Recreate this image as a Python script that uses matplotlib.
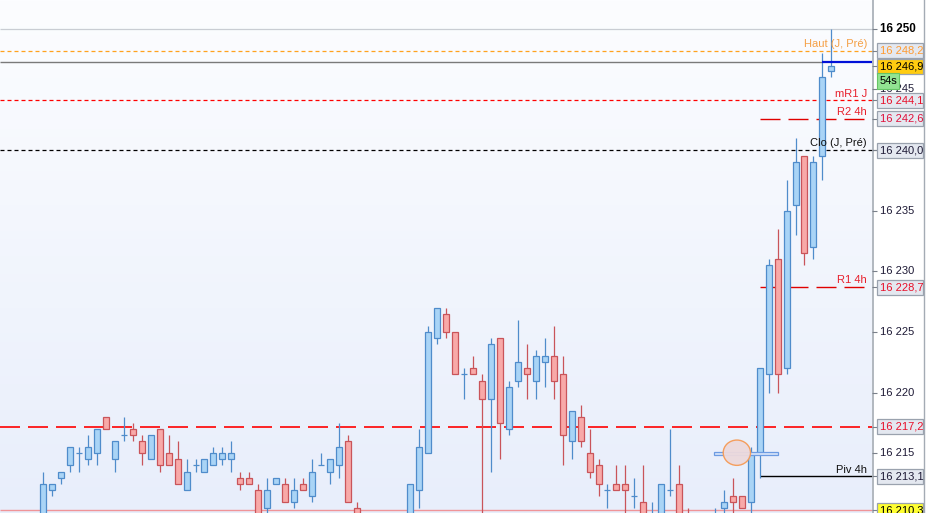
import numpy as np
import matplotlib
matplotlib.use("Agg")
import matplotlib.pyplot as plt
from matplotlib.colors import LinearSegmentedColormap
from matplotlib.patches import Rectangle, Ellipse
import matplotlib.transforms as mtransforms

plt.rcParams['font.family'] = ['Liberation Sans', 'DejaVu Sans']
plt.rcParams['lines.scale_dashes'] = False

# ---------------------------------------------------------------
# Candles (open, high, low, close), one per bar
# ---------------------------------------------------------------
opens = [16209.0, 16212.0, 16213.0, 16214.0, 16215.0, 16214.5, 16215.0, 16218.0, 16214.5, 16216.5,
         16217.0, 16216.0, 16214.5, 16217.0, 16215.0, 16214.5, 16212.0, 16214.0, 16213.5, 16214.0,
         16214.5, 16214.5, 16213.0, 16213.0, 16212.0, 16210.5, 16212.5, 16212.5, 16211.0, 16212.5,
         16211.5, 16214.0, 16213.5, 16214.0, 16216.0, 16210.5, 16209.0, 16207.5, 16208.5, 16207.0,
         16208.0, 16209.0, 16212.0, 16215.0, 16224.5, 16226.5, 16225.0, 16221.5, 16222.0, 16221.0,
         16219.5, 16224.5, 16217.0, 16221.0, 16222.0, 16221.0, 16222.5, 16223.0, 16221.5, 16216.0,
         16218.0, 16215.0, 16214.0, 16212.0, 16212.5, 16212.5, 16211.5, 16211.0, 16208.5, 16209.0,
         16212.0, 16212.5, 16209.5, 16208.5, 16208.0, 16208.5, 16210.5, 16211.5, 16211.5, 16211.0,
         16215.0, 16221.5, 16231.0, 16222.0, 16235.5, 16239.5, 16232.0, 16239.5, 16246.5]
highs = [16213.5, 16212.5, 16213.5, 16215.5, 16215.5, 16216.5, 16217.0, 16218.0, 16216.0, 16218.0,
         16217.5, 16216.5, 16216.5, 16217.0, 16216.5, 16216.0, 16214.5, 16214.5, 16214.5, 16215.5,
         16215.5, 16216.0, 16213.5, 16213.5, 16212.5, 16213.0, 16213.0, 16213.0, 16213.0, 16213.0,
         16214.5, 16215.0, 16214.5, 16217.5, 16216.5, 16211.0, 16209.5, 16209.0, 16209.0, 16208.5,
         16209.5, 16212.5, 16217.0, 16225.5, 16227.0, 16227.0, 16225.0, 16222.0, 16223.0, 16221.5,
         16224.5, 16224.5, 16221.0, 16226.0, 16224.0, 16223.5, 16224.5, 16225.5, 16223.0, 16218.5,
         16219.0, 16217.0, 16214.5, 16212.5, 16214.0, 16214.0, 16213.0, 16214.0, 16211.0, 16212.5,
         16217.0, 16214.0, 16210.5, 16209.0, 16209.5, 16210.5, 16212.0, 16213.0, 16211.5, 16215.5,
         16222.0, 16231.0, 16233.5, 16237.5, 16241.0, 16239.5, 16239.5, 16248.0, 16250.0]
lows = [16208.5, 16211.5, 16212.5, 16213.5, 16213.5, 16214.0, 16214.0, 16217.0, 16213.5, 16216.0,
        16216.0, 16214.0, 16214.5, 16213.5, 16214.0, 16212.5, 16212.0, 16213.5, 16213.5, 16214.0,
        16214.0, 16213.5, 16212.0, 16212.5, 16209.0, 16209.5, 16212.5, 16211.0, 16210.5, 16212.0,
        16211.0, 16214.0, 16212.5, 16213.0, 16211.0, 16208.5, 16207.0, 16207.0, 16206.5, 16206.5,
        16207.5, 16208.5, 16210.5, 16215.0, 16224.0, 16224.5, 16221.5, 16219.5, 16221.5, 16209.0,
        16213.5, 16214.5, 16216.5, 16220.5, 16219.5, 16219.5, 16220.5, 16219.5, 16214.0, 16214.5,
        16215.5, 16213.0, 16211.5, 16210.5, 16212.0, 16209.5, 16210.5, 16208.5, 16208.0, 16208.5,
        16211.5, 16209.0, 16208.0, 16207.5, 16207.5, 16208.0, 16209.5, 16209.5, 16210.5, 16210.0,
        16213.0, 16220.0, 16220.0, 16221.5, 16233.0, 16230.5, 16231.0, 16237.5, 16246.0]
closes = [16212.5, 16212.5, 16213.5, 16215.5, 16215.0, 16215.5, 16217.0, 16217.0, 16216.0, 16216.5,
          16216.5, 16215.0, 16216.5, 16214.0, 16214.0, 16212.5, 16213.5, 16214.0, 16214.5, 16215.0,
          16215.0, 16215.0, 16212.5, 16212.5, 16209.5, 16212.0, 16213.0, 16211.0, 16212.0, 16212.0,
          16213.5, 16214.0, 16214.5, 16215.5, 16211.0, 16209.0, 16207.5, 16208.5, 16207.0, 16208.0,
          16209.0, 16212.5, 16215.5, 16225.0, 16227.0, 16225.0, 16221.5, 16221.5, 16221.5, 16219.5,
          16224.0, 16217.5, 16220.5, 16222.5, 16221.5, 16223.0, 16223.0, 16221.0, 16216.5, 16218.5,
          16216.0, 16213.5, 16212.5, 16212.0, 16212.0, 16212.0, 16211.5, 16209.0, 16209.5, 16212.5,
          16212.0, 16209.5, 16208.5, 16208.0, 16209.0, 16209.5, 16211.0, 16211.0, 16210.5, 16215.0,
          16222.0, 16230.5, 16221.5, 16235.0, 16239.0, 16231.5, 16239.0, 16246.0, 16246.9]

# Horizontal levels drawn across the chart
level_names = ["Haut (J, Pré)", "mR1 J", "R2 4h", "Clo (J, Pré)", "R1 4h", "", "Piv 4h", ""]
level_prices = [16248.2, 16244.1, 16242.6, 16240.0, 16228.7, 16217.2, 16213.1, 16210.3]
level_start = [None, None, 80, None, 80, None, 80, None]  # 4h levels begin at bar 80

last_price = 16246.9
price_line = 16247.3
round_level = 16250.0
countdown = "54s"

y_ticks = [16215, 16220, 16225, 16230, 16235, 16240, 16245, 16250]

zone_price = 16215.0
zone_bars = (74.9, 82.0)
marker_center = (77.45, 16215.05)

# ---------------------------------------------------------------
W, H = 926, 513
AXW = 872
y_top, y_bot = 16252.37, 16210.08
px_per_unit = H / (y_top - y_bot)
bar_step = 8.955
x0_px = 43.3
x_left = -x0_px / bar_step
x_right = (AXW - x0_px) / bar_step

fig = plt.figure(figsize=(W / 100, H / 100), dpi=100)
ax = fig.add_axes([0, 0, AXW / W, 1])
panel = fig.add_axes([AXW / W, 0, (W - AXW) / W, 1])

ax.set_xlim(x_left, x_right)
ax.set_ylim(y_bot, y_top)
ax.axis('off')

# background gradient
bg = LinearSegmentedColormap.from_list('bg', ['#FCFDFF', '#E8EEFB'])
ax.imshow(np.linspace(0, 1, 256).reshape(-1, 1), cmap=bg, aspect='auto',
          extent=[x_left, x_right, y_bot, y_top], origin='upper', zorder=0)

# ---------------------------------------------------------------
# levels
# ---------------------------------------------------------------
RED = '#FF0000'
ORANGE = '#FFA21E'
fine = (0, (4 * 0.72, 3 * 0.72))
longd = (0, (20 * 0.72, 8 * 0.72))
styles = [
    dict(color=ORANGE, lw=0.9, ls=fine),
    dict(color=RED, lw=0.9, ls=fine),
    dict(color='#E00000', lw=1.0, ls=longd),
    dict(color='#000000', lw=0.9, ls=fine),
    dict(color='#E00000', lw=1.0, ls=longd),
    dict(color=RED, lw=1.2, ls=longd),
    dict(color='#000000', lw=1.0, ls='-'),
    dict(color='#F09498', lw=1.0, ls='-'),
]
for price, start, st in zip(level_prices, level_start, styles):
    xs = x_left if start is None else start
    ax.hlines(price, xs, x_right, zorder=2, **st)

ax.hlines(round_level, x_left, x_right, color='#C9CDD3', lw=0.9, zorder=1)
ax.hlines(price_line, x_left, len(closes) - 2, color='#7A7A7A', lw=1.0, zorder=1)
ax.hlines(price_line, len(closes) - 2, x_right, color='#0010D8', lw=1.6, zorder=4)

label_colors = ['#F5A045', '#E8202C', '#E8202C', '#101010', '#E8202C', None, '#101010', None]
blend = mtransforms.blended_transform_factory(ax.transAxes, ax.transData)
for name, price, col in zip(level_names, level_prices, label_colors):
    if name:
        ax.annotate(name, xy=(867 / AXW, price), xycoords=blend, xytext=(0, 1.2),
                    textcoords='offset points', ha='right', va='bottom',
                    fontsize=8, color=col, zorder=6)

# marker zone and ellipse
ax.add_patch(Rectangle((zone_bars[0], zone_price - 0.12), zone_bars[1] - zone_bars[0], 0.24,
                       facecolor='#D6E4FA', edgecolor='#6D9BE2', lw=0.9, zorder=5))
ax.add_patch(Ellipse(marker_center, 27.3 / bar_step, 25.3 / px_per_unit,
                     facecolor='#ECD9DC', edgecolor='#F59A55', lw=1.0, alpha=0.95, zorder=6))

# ---------------------------------------------------------------
# candles
# ---------------------------------------------------------------
UP_EDGE, UP_FILL = '#4F8CCB', '#A9D4F6'
DN_EDGE, DN_FILL = '#C9545A', '#F8A9A8'
idx = np.arange(len(closes))
o = np.array(opens)
h = np.array(highs)
l = np.array(lows)
c = np.array(closes)
up = c >= o
edge = np.where(up, UP_EDGE, DN_EDGE)
fill = np.where(up, UP_FILL, DN_FILL)
body_w = 6 / bar_step

ax.vlines(idx, l, h, colors=edge, lw=0.9, zorder=3)
doji = np.isclose(o, c)
ax.bar(idx[~doji], (np.abs(c - o))[~doji], bottom=np.minimum(o, c)[~doji], width=body_w,
       color=fill[~doji], edgecolor=edge[~doji], linewidth=0.9, zorder=4)
ax.hlines(o[doji], idx[doji] - body_w / 2, idx[doji] + body_w / 2, colors=UP_EDGE, lw=0.9, zorder=4)

# ---------------------------------------------------------------
# price panel
# ---------------------------------------------------------------
PW = W - AXW
panel.set_xlim(0, PW)
panel.set_ylim(y_bot, y_top)
panel.axis('off')
panel.axvline(0.5, color='#A4ABB4', lw=1.2)
panel.axvline(51.5, color='#A4ABB4', lw=1.0)

box_h = 15 / px_per_unit
box_faces = ['#E4E8F0', '#FFCC10', '#E4E8F0', '#E4E8F0', '#E4E8F0', '#E4E8F0', '#E4E8F0', '#E4E8F0', '#FFFF30']
box_text_col = ['#FF9A30', '#000000', '#E8102A', '#E0103A', '#1E1A36', '#E8102A', '#E8102A', '#1E1A36', '#000000']
box_prices = [level_prices[0], last_price, level_prices[1], level_prices[2], level_prices[3],
              level_prices[4], level_prices[5], level_prices[6], level_prices[7]]

tick_col = '#1E1A36'
cd_top = last_price - 0.55
cd_h = 16 / px_per_unit
for t in y_ticks:
    panel.hlines(t, 0, 5, color='#7A808A', lw=0.8)
    # tick labels that sit under a price box are hidden, as on the reference
    if any(abs(t - p) < box_h * 0.6 for p in box_prices):
        continue
    bold = t == round_level
    lab = panel.text(8, t, f"{t // 1000} {t % 1000:03d}", fontsize=8.4 if bold else 8,
                     fontweight='bold' if bold else 'normal',
                     color='#000000' if bold else tick_col, va='center', ha='left', zorder=2)
    if cd_top - cd_h < t < cd_top:
        # partly covered by the countdown badge
        lab.set_clip_path(Rectangle((27.5, y_bot), PW, y_top - y_bot, transform=panel.transData))

for price, face, tcol in zip(box_prices, box_faces, box_text_col):
    panel.hlines(price, 0, 5, color='#7A808A', lw=0.8, zorder=3)
    panel.add_patch(Rectangle((5, price - box_h / 2), 45.5, box_h, facecolor=face,
                              edgecolor='#9AA2AE', lw=0.9, zorder=4))
    txt = f"{int(price) // 1000} {int(price) % 1000:03d},{int(round(price * 10)) % 10}"
    panel.text(8, price, txt, fontsize=8, color=tcol, va='center', ha='left', zorder=5)

# countdown badge
panel.add_patch(Rectangle((5, cd_top - cd_h), 22, cd_h,
                          facecolor='#92E492', edgecolor='#66C466', lw=0.8, zorder=6))
panel.text(7.5, cd_top - cd_h / 2, countdown, fontsize=8, color='#000000',
           va='center', ha='left', zorder=7)

fig.savefig('out.png', dpi=100)
